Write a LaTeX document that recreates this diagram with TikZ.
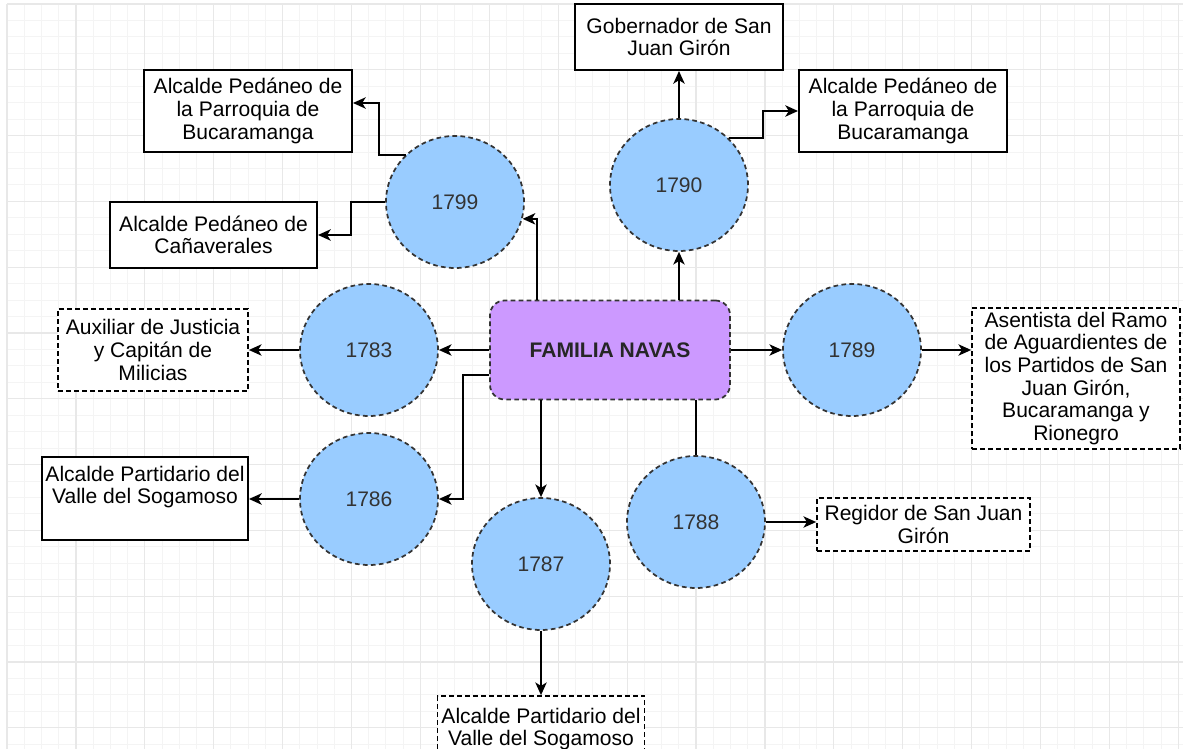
\documentclass[tikz,border=0pt]{standalone}
\usepackage{fontspec}
\setmainfont{Liberation Sans}
\usetikzlibrary{arrows.meta,shapes.geometric}

\definecolor{circblue}{HTML}{99CCFF}
\definecolor{famviolet}{HTML}{CC99FF}
\definecolor{gridmajor}{HTML}{E8E8E8}
\definecolor{gridminor}{HTML}{F4F4F4}
\definecolor{edgegray}{HTML}{333333}

\newcommand{\boxfont}{\fontsize{15.8}{17}\selectfont}

\tikzset{
  year/.style={ellipse, draw=edgegray, fill=circblue, line width=1.3pt,
    dash pattern=on 3.5pt off 2.5pt, minimum width=103.5pt, minimum height=99pt,
    inner sep=0pt, font=\boxfont, text=edgegray},
  post/.style={rectangle, draw=black, fill=white, line width=1.5pt,
    inner sep=0pt, align=center, font=\boxfont},
  dpost/.style={post, line width=1.3pt, dash pattern=on 3.5pt off 2.5pt},
  family/.style={rectangle, rounded corners=11pt, draw=edgegray, fill=famviolet,
    line width=1.3pt, dash pattern=on 3.5pt off 2.5pt, minimum width=180pt,
    minimum height=74.25pt, font=\boxfont\bfseries, text=black!85},
  arr/.style={-{Stealth[length=9.5pt,width=8.5pt,inset=2.6pt]}, line width=1.5pt},
  link/.style={line width=1.5pt},
  gridthin/.style={gridminor, line width=0.7pt},
  gridthick/.style={gridmajor, line width=0.9pt},
}

\begin{document}
\begin{tikzpicture}[x=0.75pt,y=-0.75pt]
\useasboundingbox (0,0) rectangle (1183,749);
\fill[white] (0,0) rectangle (1183,749);

% background grid
\foreach \i in {0,...,68} \draw[gridthin] ({7+17.225*\i},4) -- ({7+17.225*\i},749);
\foreach \j in {0,...,45} \draw[gridthin] (7,{4+16.45*\j}) -- (1183,{4+16.45*\j});
\foreach \i in {0,...,17} \draw[gridthick] ({7+68.9*\i},4) -- ({7+68.9*\i},749);
\foreach \j in {0,...,11} \draw[gridthick] (7,{4+65.8*\j}) -- (1183,{4+65.8*\j});

% central node
\node[family] (fam) at (610,350) {FAMILIA NAVAS};

% years
\node[year] (c1799) at (455,202) {1799};
\node[year] (c1790) at (679,185) {1790};
\node[year] (c1783) at (369,350) {1783};
\node[year] (c1786) at (369,499) {1786};
\node[year] (c1787) at (541,564) {1787};
\node[year] (c1788) at (696,522) {1788};
\node[year] (c1789) at (852,350) {1789};

% posts
\node[post, minimum width=156pt, minimum height=61.5pt] (tl) at (248,111)
  {Alcalde Pedáneo de\\la Parroquia de\\Bucaramanga};
\node[post, minimum width=155.25pt, minimum height=49.5pt] (can) at (213.5,235)
  {Alcalde Pedáneo de\\Cañaverales};
\node[post, minimum width=156pt, minimum height=49.5pt] (gob) at (679,37)
  {Gobernador de San\\Juan Girón};
\node[post, minimum width=156pt, minimum height=61.5pt] (tr) at (903,111)
  {Alcalde Pedáneo de\\la Parroquia de\\Bucaramanga};
\node[dpost, minimum width=142.5pt, minimum height=61.5pt] (aux) at (153,350)
  {Auxiliar de Justicia\\y Capitán de\\Milicias};
\node[post, minimum width=154.5pt, minimum height=62.25pt] (lv) at (145,498.5) {};
\node[font=\boxfont, align=center, inner sep=0pt] (lvtext) at (145,487)
  {Alcalde Partidario del\\Valle del Sogamoso};
\node[dpost, minimum width=155.25pt, minimum height=49.5pt] (bot) at (541,729)
  {Alcalde Partidario del\\Valle del Sogamoso};
\node[dpost, minimum width=159.75pt, minimum height=39.75pt] (reg) at (923.5,524.5)
  {Regidor de San Juan\\Girón};
\node[dpost, minimum width=156pt, minimum height=105.75pt] (as) at (1076,378.5)
  {Asentista del Ramo\\de Aguardientes de\\los Partidos de San\\Juan Girón,\\Bucaramanga y\\Rionegro};

% connectors from the family
\draw[arr] (fam.west) -- (c1783.east);
\draw[arr] (fam.west |- 0,375) -| (463,499) -- (c1786.east);
\draw[arr] (fam.south -| c1787.north) -- (c1787.north);
\draw[link] (fam.south -| c1788.north) -- (c1788.north);
\draw[arr] (fam.east) -- (c1789.west);
\draw[arr] (fam.north -| c1790.south) -- (c1790.south);
\draw[arr] (fam.north -| 537,0) |- (c1799.-14);

% connectors from the years
\draw[arr] (c1783.west) -- (aux.east);
\draw[arr] (c1786.west) -- (c1786.west -| lv.east);
\draw[arr] (c1787.south) -- (bot.north);
\draw[arr] (c1788.east) -- (c1788.east -| reg.west);
\draw[arr] (c1789.east) -- (c1789.east -| as.west);
\draw[arr] (c1790.north) -- (gob.south);
\draw[arr] (c1790.43) -| (763,111) -- (tr.west);
\draw[arr] (c1799.136) -| (379,103) -- (379,103 -| tl.east);
\draw[arr] (c1799.west) -| (351,235) -- (can.east);
\end{tikzpicture}
\end{document}
